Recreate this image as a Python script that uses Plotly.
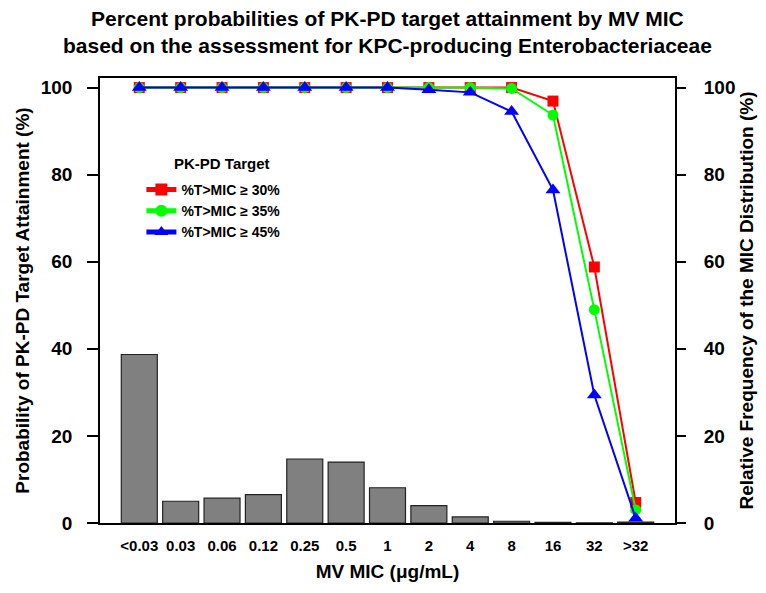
import plotly.graph_objects as go

categories = ["<0.03", "0.03", "0.06", "0.12", "0.25", "0.5", "1", "2", "4", "8", "16", "32", ">32"]
mic_freq = [38.7, 5.0, 5.7, 6.5, 14.7, 14.0, 8.1, 4.0, 1.4, 0.4, 0.15, 0.05, 0.2]
pta_30 = [100, 100, 100, 100, 100, 100, 100, 100, 100, 100, 96.9, 58.8, 4.7]
pta_35 = [100, 100, 100, 100, 100, 100, 100, 100, 100, 99.8, 93.7, 49.0, 3.0]
pta_45 = [100, 100, 100, 100, 100, 100, 100, 99.5, 98.9, 94.5, 76.5, 29.4, 1.1]
y_ticks = [0, 20, 40, 60, 80, 100]
title_lines = ["Percent probabilities of PK-PD target attainment by MV MIC",
               "based on the assessment for KPC-producing Enterobacteriaceae"]
legend_title = "PK-PD Target"

FONT = "Liberation Sans"
fig = go.Figure()

fig.add_trace(go.Bar(
    x=categories, y=mic_freq, width=0.87,
    marker=dict(color="#808080", line=dict(color="#222222", width=1.2)),
    showlegend=False, yaxis="y",
))

series = [
    ("%T>MIC \u2265 30%", pta_30, "#FF0000", "square", 11),
    ("%T>MIC \u2265 35%", pta_35, "#00FF00", "circle", 11),
    ("%T>MIC \u2265 45%", pta_45, "#0000FF", "triangle-up", 13),
]
for name, vals, col, sym, sz in series:
    fig.add_trace(go.Scatter(
        x=categories, y=vals, name=name, mode="lines+markers",
        line=dict(color=col, width=2),
        marker=dict(color=col, symbol=sym, size=sz),
        yaxis="y2", cliponaxis=False,
    ))

axis_font = dict(family=FONT, size=19, color="black", weight="bold")
tick_font = dict(family=FONT, size=19, color="black", weight="bold")

plot_left, plot_w = 100, 575
plot_top, plot_h = 78, 445
def px_x(px):
    return (px - plot_left) / plot_w
def px_y(py):
    return (plot_top + plot_h - py) / plot_h

for txt, py in zip(title_lines, [19, 45]):
    fig.add_annotation(
        text=txt, xref="paper", yref="paper", x=0.5, y=px_y(py),
        xanchor="center", yanchor="middle", showarrow=False,
        font=dict(family=FONT, size=21, color="black", weight="bold"),
    )

fig.add_annotation(
    text=legend_title, xref="paper", yref="paper", x=px_x(222), y=px_y(163),
    xanchor="center", yanchor="middle", showarrow=False,
    font=dict(family=FONT, size=15, color="black", weight="bold"),
)

fig.update_layout(
    width=766, height=593,
    margin=dict(l=100, r=91, t=78, b=70, autoexpand=False),
    paper_bgcolor="white", plot_bgcolor="white",
    font=dict(family=FONT, color="black"),
    xaxis=dict(
        type="category", range=[-0.95, 12.95], automargin=False,
        showline=True, linecolor="black", linewidth=1.5, mirror=True,
        ticks="", ticklabelstandoff=8,
        tickfont=dict(family=FONT, size=15, color="black", weight="bold"),
        title=dict(text="MV MIC (\u03bcg/mL)", font=axis_font, standoff=12),
        showgrid=False, zeroline=False,
    ),
    yaxis=dict(
        range=[0, 102.2], tickvals=y_ticks, automargin=False,
        showline=True, linecolor="black", linewidth=1.5, mirror=True,
        ticks="outside", ticklen=11, tickwidth=1.5, tickcolor="black",
        ticklabelstandoff=11, tickfont=tick_font,
        title=dict(text="Probability of PK-PD Target Attainment (%)", font=axis_font, standoff=6),
        showgrid=False, zeroline=False,
    ),
    yaxis2=dict(
        range=[0, 102.2], tickvals=y_ticks, overlaying="y", side="right", automargin=False,
        showline=False,
        ticks="outside", ticklen=10, tickwidth=1.5, tickcolor="black",
        ticklabelstandoff=14, tickfont=tick_font,
        title=dict(text="Relative Frequency of the MIC Distribution (%)", font=axis_font, standoff=4),
        showgrid=False, zeroline=False,
    ),
    legend=dict(
        x=0.072, y=px_y(174), xanchor="left", yanchor="top",
        bgcolor="rgba(0,0,0,0)", borderwidth=0,
        font=dict(family=FONT, size=14, color="black", weight="bold"),
        tracegroupgap=0, itemsizing="constant",
    ),
)

fig.write_html("out.html")
